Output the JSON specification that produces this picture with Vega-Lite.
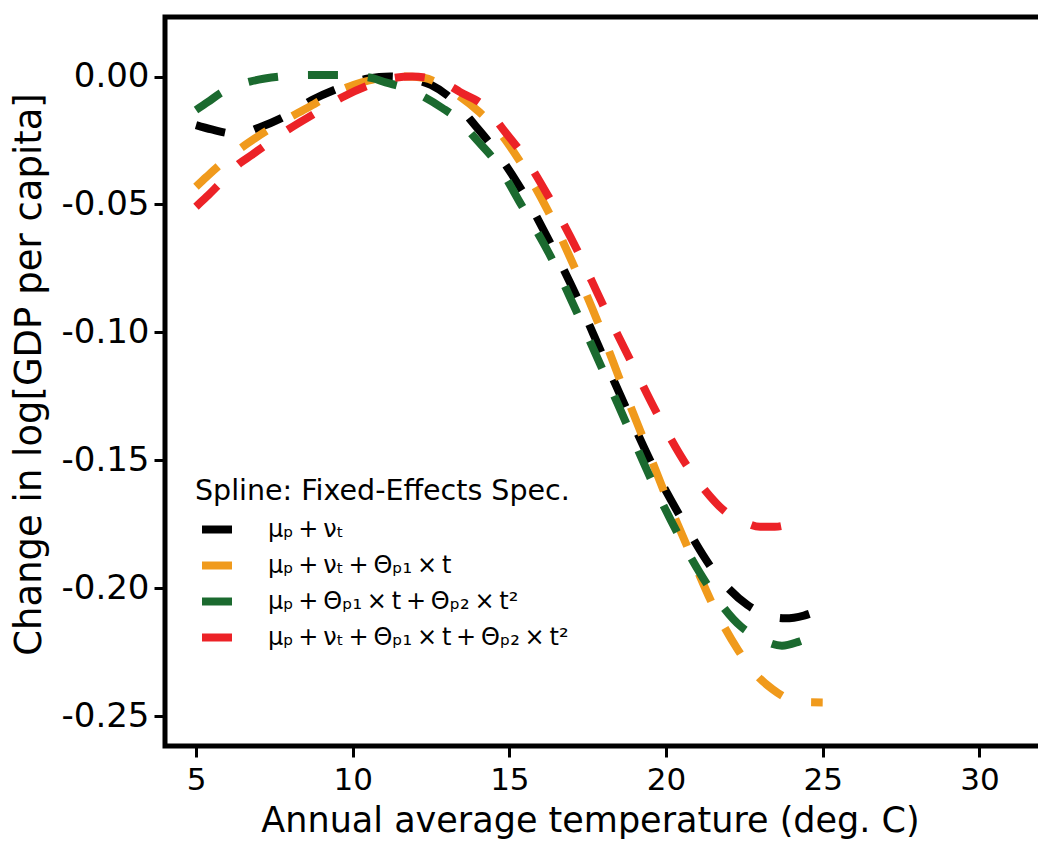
{
  "$schema": "https://vega.github.io/schema/vega-lite/v6.json",
  "width": 878,
  "height": 729,
  "autosize": {"type": "none"},
  "padding": {"left": 165, "top": 17, "right": -5, "bottom": 96},
  "config": {
    "font": "DejaVu Sans",
    "view": {"stroke": "black", "strokeWidth": 5},
    "axis": {"labelColor": "black", "titleColor": "black", "tickColor": "black", "grid": false, "domain": false, "titleFontWeight": "normal"}
  },
  "data": {"values": [
    {"spec": "A", "temp": 5.0, "value": -0.0190},
    {"spec": "A", "temp": 5.5, "value": -0.0207},
    {"spec": "A", "temp": 6.3, "value": -0.0225},
    {"spec": "A", "temp": 7.0, "value": -0.0200},
    {"spec": "A", "temp": 7.8, "value": -0.0158},
    {"spec": "A", "temp": 8.7, "value": -0.0092},
    {"spec": "A", "temp": 9.55, "value": -0.0046},
    {"spec": "A", "temp": 10.5, "value": -0.0008},
    {"spec": "A", "temp": 11.2, "value": 0.0000},
    {"spec": "A", "temp": 11.8, "value": -0.0008},
    {"spec": "A", "temp": 12.5, "value": -0.0033},
    {"spec": "A", "temp": 13.2, "value": -0.0092},
    {"spec": "A", "temp": 13.9, "value": -0.0190},
    {"spec": "A", "temp": 14.5, "value": -0.0280},
    {"spec": "A", "temp": 15.3, "value": -0.0425},
    {"spec": "A", "temp": 16.27, "value": -0.0642},
    {"spec": "A", "temp": 17.15, "value": -0.0861},
    {"spec": "A", "temp": 17.95, "value": -0.1082},
    {"spec": "A", "temp": 18.74, "value": -0.1300},
    {"spec": "A", "temp": 19.59, "value": -0.1525},
    {"spec": "A", "temp": 20.52, "value": -0.1734},
    {"spec": "A", "temp": 21.56, "value": -0.1939},
    {"spec": "A", "temp": 22.6, "value": -0.2066},
    {"spec": "A", "temp": 23.2, "value": -0.2105},
    {"spec": "A", "temp": 23.8, "value": -0.2118},
    {"spec": "A", "temp": 24.4, "value": -0.2107},
    {"spec": "A", "temp": 25.0, "value": -0.2079},

    {"spec": "B", "temp": 5.0, "value": -0.0431},
    {"spec": "B", "temp": 5.34, "value": -0.0392},
    {"spec": "B", "temp": 6.0, "value": -0.0320},
    {"spec": "B", "temp": 6.88, "value": -0.0242},
    {"spec": "B", "temp": 7.7, "value": -0.0180},
    {"spec": "B", "temp": 8.58, "value": -0.0121},
    {"spec": "B", "temp": 9.4, "value": -0.0065},
    {"spec": "B", "temp": 10.29, "value": -0.0023},
    {"spec": "B", "temp": 11.0, "value": -0.0005},
    {"spec": "B", "temp": 11.7, "value": 0.0000},
    {"spec": "B", "temp": 12.3, "value": -0.0006},
    {"spec": "B", "temp": 12.63, "value": -0.0020},
    {"spec": "B", "temp": 13.3, "value": -0.0068},
    {"spec": "B", "temp": 14.06, "value": -0.0141},
    {"spec": "B", "temp": 14.7, "value": -0.0220},
    {"spec": "B", "temp": 15.26, "value": -0.0317},
    {"spec": "B", "temp": 16.22, "value": -0.0522},
    {"spec": "B", "temp": 17.07, "value": -0.0743},
    {"spec": "B", "temp": 17.84, "value": -0.0965},
    {"spec": "B", "temp": 18.53, "value": -0.1186},
    {"spec": "B", "temp": 19.27, "value": -0.1414},
    {"spec": "B", "temp": 19.99, "value": -0.1639},
    {"spec": "B", "temp": 20.76, "value": -0.1861},
    {"spec": "B", "temp": 21.56, "value": -0.2082},
    {"spec": "B", "temp": 22.3, "value": -0.2242},
    {"spec": "B", "temp": 22.84, "value": -0.2333},
    {"spec": "B", "temp": 23.4, "value": -0.2395},
    {"spec": "B", "temp": 24.0, "value": -0.2437},
    {"spec": "B", "temp": 24.5, "value": -0.2446},
    {"spec": "B", "temp": 25.0, "value": -0.2447},

    {"spec": "C", "temp": 5.0, "value": -0.0131},
    {"spec": "C", "temp": 5.39, "value": -0.0099},
    {"spec": "C", "temp": 5.77, "value": -0.0066},
    {"spec": "C", "temp": 6.3, "value": -0.0035},
    {"spec": "C", "temp": 6.72, "value": -0.0020},
    {"spec": "C", "temp": 7.2, "value": -0.0008},
    {"spec": "C", "temp": 7.7, "value": 0.0000},
    {"spec": "C", "temp": 8.7, "value": 0.0006},
    {"spec": "C", "temp": 9.65, "value": 0.0006},
    {"spec": "C", "temp": 10.3, "value": 0.0000},
    {"spec": "C", "temp": 10.66, "value": -0.0007},
    {"spec": "C", "temp": 11.05, "value": -0.0023},
    {"spec": "C", "temp": 11.56, "value": -0.0040},
    {"spec": "C", "temp": 12.2, "value": -0.0075},
    {"spec": "C", "temp": 12.87, "value": -0.0124},
    {"spec": "C", "temp": 13.26, "value": -0.0157},
    {"spec": "C", "temp": 13.96, "value": -0.0248},
    {"spec": "C", "temp": 14.6, "value": -0.0339},
    {"spec": "C", "temp": 15.34, "value": -0.0493},
    {"spec": "C", "temp": 16.32, "value": -0.0704},
    {"spec": "C", "temp": 17.17, "value": -0.0926},
    {"spec": "C", "temp": 17.97, "value": -0.1144},
    {"spec": "C", "temp": 18.77, "value": -0.1366},
    {"spec": "C", "temp": 19.57, "value": -0.1587},
    {"spec": "C", "temp": 20.44, "value": -0.1802},
    {"spec": "C", "temp": 21.43, "value": -0.2007},
    {"spec": "C", "temp": 22.4, "value": -0.2151},
    {"spec": "C", "temp": 22.89, "value": -0.2190},
    {"spec": "C", "temp": 23.21, "value": -0.2210},
    {"spec": "C", "temp": 23.7, "value": -0.2225},
    {"spec": "C", "temp": 24.22, "value": -0.2210},
    {"spec": "C", "temp": 25.0, "value": -0.2166},

    {"spec": "D", "temp": 5.0, "value": -0.0509},
    {"spec": "D", "temp": 5.34, "value": -0.0470},
    {"spec": "D", "temp": 5.66, "value": -0.0431},
    {"spec": "D", "temp": 6.4, "value": -0.0339},
    {"spec": "D", "temp": 6.78, "value": -0.0307},
    {"spec": "D", "temp": 7.15, "value": -0.0274},
    {"spec": "D", "temp": 8.0, "value": -0.0203},
    {"spec": "D", "temp": 8.8, "value": -0.0144},
    {"spec": "D", "temp": 9.7, "value": -0.0079},
    {"spec": "D", "temp": 10.55, "value": -0.0033},
    {"spec": "D", "temp": 11.2, "value": -0.0008},
    {"spec": "D", "temp": 11.9, "value": 0.0000},
    {"spec": "D", "temp": 12.47, "value": -0.0007},
    {"spec": "D", "temp": 13.0, "value": -0.0030},
    {"spec": "D", "temp": 13.42, "value": -0.0060},
    {"spec": "D", "temp": 14.22, "value": -0.0118},
    {"spec": "D", "temp": 14.86, "value": -0.0216},
    {"spec": "D", "temp": 15.44, "value": -0.0307},
    {"spec": "D", "temp": 16.22, "value": -0.0463},
    {"spec": "D", "temp": 17.15, "value": -0.0675},
    {"spec": "D", "temp": 18.0, "value": -0.0896},
    {"spec": "D", "temp": 18.87, "value": -0.1111},
    {"spec": "D", "temp": 19.75, "value": -0.1326},
    {"spec": "D", "temp": 20.74, "value": -0.1535},
    {"spec": "D", "temp": 21.4, "value": -0.1640},
    {"spec": "D", "temp": 21.72, "value": -0.1682},
    {"spec": "D", "temp": 22.04, "value": -0.1714},
    {"spec": "D", "temp": 22.46, "value": -0.1740},
    {"spec": "D", "temp": 23.0, "value": -0.1760},
    {"spec": "D", "temp": 23.47, "value": -0.1760},
    {"spec": "D", "temp": 23.95, "value": -0.1747},
    {"spec": "D", "temp": 24.4, "value": -0.1712}
  ]},
  "mark": {"type": "line", "strokeWidth": 8, "strokeDash": [30, 30], "strokeCap": "butt", "interpolate": "monotone", "clip": true},
  "encoding": {
    "x": {
      "field": "temp", "type": "quantitative",
      "scale": {"domain": [4.011, 32.03], "nice": false, "zero": false},
      "axis": {"values": [5, 10, 15, 20, 25, 30], "format": "d", "labelFontSize": 31, "labelPadding": 8, "tickSize": 11, "tickWidth": 3, "title": "Annual average temperature (deg. C)", "titleFontSize": 35, "titlePadding": 8, "titleX": 425}
    },
    "y": {
      "field": "value", "type": "quantitative",
      "scale": {"domain": [-0.2617, 0.02326], "nice": false, "zero": false},
      "axis": {"values": [0, -0.05, -0.1, -0.15, -0.2, -0.25], "format": ".2f", "labelExpr": "replace(datum.label, '\u2212', '-')", "labelFontSize": 34, "labelPadding": 5, "tickSize": 11, "tickWidth": 3, "title": "Change in log[GDP per capita]", "titleFontSize": 37, "titlePadding": 13, "titleY": 357}
    },
    "color": {
      "field": "spec", "type": "nominal",
      "scale": {"domain": ["A", "B", "C", "D"], "range": ["#000000", "#f09a1c", "#1b6a2f", "#ec2227"]},
      "legend": {
        "orient": "none", "legendX": 30, "legendY": 460,
        "title": "Spline: Fixed-Effects Spec.", "titleFontSize": 28.5, "titleFontWeight": "normal", "titleColor": "black", "titlePadding": 5, "titleLimit": 800,
        "labelExpr": "datum.label == 'A' ? 'μₚ\u2009+\u2009νₜ' : datum.label == 'B' ? 'μₚ\u2009+\u2009νₜ\u2009+\u2009Θₚ₁\u2009×\u2009t' : datum.label == 'C' ? 'μₚ\u2009+\u2009Θₚ₁\u2009×\u2009t\u2009+\u2009Θₚ₂\u2009×\u2009t²' : 'μₚ\u2009+\u2009νₜ\u2009+\u2009Θₚ₁\u2009×\u2009t\u2009+\u2009Θₚ₂\u2009×\u2009t²'",
        "labelFontSize": 24, "labelColor": "black", "labelAlign": "left", "labelOffset": 32, "labelLimit": 800,
        "symbolType": "stroke", "symbolSize": 900, "symbolStrokeWidth": 8, "symbolDash": [40, 0], "symbolOffset": 3,
        "gridAlign": "all",
        "rowPadding": 1, "padding": 0
      }
    }
  }
}
